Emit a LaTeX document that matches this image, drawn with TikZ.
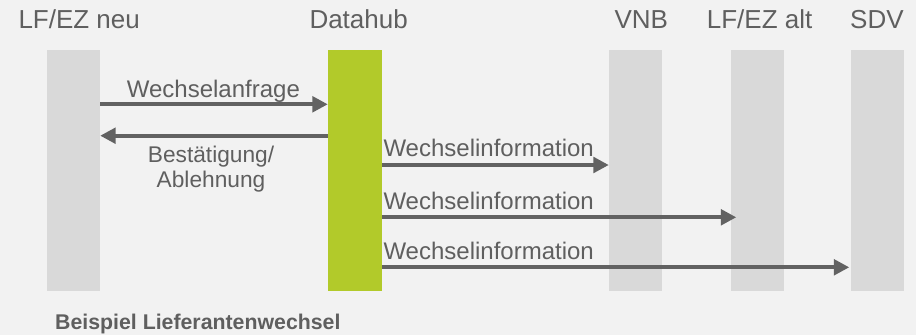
\documentclass[tikz,border=0pt]{standalone}
\usepackage{fontspec}
\setmainfont{Liberation Sans}
\usetikzlibrary{arrows.meta}
\definecolor{bgcol}{HTML}{F2F2F2}
\definecolor{lanecol}{HTML}{D9D9D9}
\definecolor{hubcol}{HTML}{B2CA2A}
\definecolor{txtcol}{HTML}{5F5F5F}
\definecolor{arrowcol}{HTML}{626262}
\tikzset{
  lane/.style={fill=lanecol, draw=none, inner sep=0pt, minimum width=53pt, minimum height=241pt},
  hublane/.style={lane, fill=hubcol, minimum width=54pt},
  header/.style={anchor=base west, inner sep=0pt, text=txtcol, font=\fontsize{26}{31}\selectfont},
  msglabel/.style={anchor=base west, inner sep=0pt, text=txtcol, font=\fontsize{24}{28}\selectfont},
  msg/.style={draw=arrowcol, line width=3.8pt, -{Triangle[length=15.5pt,width=15.5pt]}}
}
\begin{document}
\begin{tikzpicture}[x=1pt,y=-1pt]
  \useasboundingbox[fill=bgcol] (0,0) rectangle (916,335);

  % swim lanes
  \node[lane]    (neu) at (73.5,170) {};
  \node[hublane] (hub) at (355,170) {};
  \node[lane]    (vnb) at (635.5,170) {};
  \node[lane]    (alt) at (757,170) {};
  \node[lane]    (sdv) at (877.5,170) {};

  % lane titles
  \node[header] (tneu) at (18.3,28.3) {LF/EZ neu};
  \node[header] (thub) at (309.3,28.3) {Datahub};
  \node[header] (tvnb) at (614.3,28.3) {VNB};
  \node[header] (talt) at (706.7,28.3) {LF/EZ alt};
  \node[header] (tsdv) at (850,28.3) {SDV};

  % messages
  \draw[msg] (neu.east |- 0,104.3) -- (hub.west |- 0,104.3);
  \node[msglabel] (lreq) at (126.7,97.3) {Wechselanfrage};

  \draw[msg] (hub.west |- 0,135.7) -- (neu.east |- 0,135.7);
  \node[anchor=north, inner sep=0pt, text=txtcol, align=center,
        font=\fontsize{22.7}{25.4}\selectfont] (lans) at (211,145.5) {Bestätigung/\\Ablehnung};

  \draw[msg] (hub.east |- 0,165) -- (vnb.west |- 0,165);
  \node[msglabel] (linfo1) at (383.3,156.7) {Wechselinformation};

  \draw[msg] (hub.east |- 0,217.3) -- ([xshift=6pt]alt.west |- 0,217.3);
  \node[msglabel] (linfo2) at (383.3,209.5) {Wechselinformation};

  \draw[msg] (hub.east |- 0,267.3) -- ([xshift=-1.5pt]sdv.west |- 0,267.3);
  \node[msglabel] (linfo3) at (383.3,259.5) {Wechselinformation};

  % caption
  \node[anchor=base west, inner sep=0pt, text=txtcol,
        font=\bfseries\fontsize{21.3}{25}\selectfont] (caption) at (55,329.5) {Beispiel Lieferantenwechsel};
\end{tikzpicture}
\end{document}
